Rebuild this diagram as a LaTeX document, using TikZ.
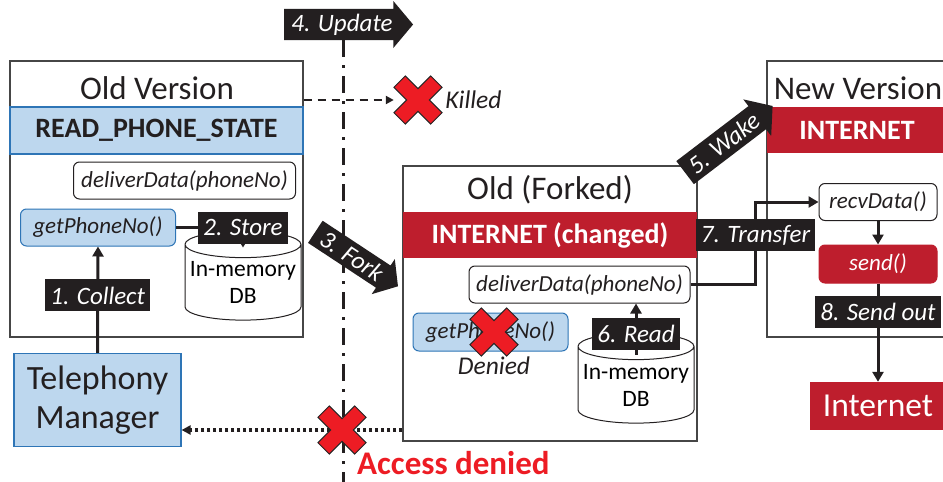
\documentclass[tikz,border=0pt]{standalone}
\usepackage{fontspec}
\setmainfont{Carlito}
\usetikzlibrary{positioning,arrows.meta,shapes.arrows,shapes.geometric}

\definecolor{permblue}{RGB}{189,215,238}
\definecolor{edgeblue}{RGB}{46,117,182}
\definecolor{permred}{RGB}{190,30,45}
\definecolor{xred}{RGB}{237,28,36}
\definecolor{labelblack}{RGB}{35,31,32}
\definecolor{edgegray}{RGB}{70,70,70}

\tikzset{
  redx/.pic={\draw[fill=xred,draw=black!85,line width=1pt,rotate=45]
    (-8,-26) -- (8,-26) -- (8,-8) -- (26,-8) -- (26,8) -- (8,8) -- (8,26)
    -- (-8,26) -- (-8,8) -- (-26,8) -- (-26,-8) -- (-8,-8) -- cycle;}
}

\begin{document}
\begin{tikzpicture}[x=1pt,y=-1pt,>={Triangle[length=10pt,width=11pt]},
  every node/.style={inner sep=0pt},
  appbox/.style={draw=edgegray,line width=1.2pt},
  apptitle/.style={font=\fontsize{33}{38}\selectfont,text=labelblack},
  permission/.style={font=\bfseries\fontsize{28}{32}\selectfont},
  blueperm/.style={permission,fill=permblue,draw=edgeblue,line width=1.2pt,text=labelblack},
  redperm/.style={permission,fill=permred,text=white},
  func/.style={draw=labelblack,line width=1pt,rounded corners=6pt,fill=white,
    font=\itshape\fontsize{23}{27}\selectfont,text=labelblack},
  bluefunc/.style={func,fill=permblue,draw=edgeblue},
  redfunc/.style={func,fill=permred,draw=permred,text=white},
  memdb/.style={cylinder,shape border rotate=90,aspect=0.25,draw=labelblack,
    line width=1pt,fill=white,align=center,font=\fontsize{23.5}{27}\selectfont},
  manager/.style={fill=permblue,draw=edgeblue,line width=1.2pt,align=center,
    font=\fontsize{34}{39}\selectfont,text=labelblack},
  outside/.style={fill=permred,text=white,font=\fontsize{33.5}{38}\selectfont},
  steplabel/.style={fill=labelblack,text=white,font=\itshape\fontsize{25}{29}\selectfont,
    inner xsep=5pt,minimum height=32pt},
  stepflow/.style={line width=3pt,draw=labelblack},
  bigarrow/.style={single arrow,fill=labelblack,text=white,
    font=\itshape\fontsize{25}{29}\selectfont,inner sep=3pt,
    single arrow head extend=7pt,single arrow tip angle=100},
  xspot/.style={minimum size=48pt},
  killtext/.style={font=\itshape\fontsize{25.5}{29}\selectfont,text=labelblack},
  timeline/.style={line width=3pt,draw=labelblack,dash pattern=on 17pt off 8pt on 3pt off 8pt}]

\useasboundingbox (0,0) rectangle (943,482);

% old version
\node[appbox,minimum width=293pt,minimum height=276pt] (oldbox) at (156.5,199) {};
\node[apptitle] (oldtitle) at (157,88) {Old Version};
\node[blueperm,minimum width=293pt,minimum height=47pt] (oldperm) at (156.5,130.5) {READ\_PHONE\_STATE};
\node[func,minimum width=222pt,minimum height=37pt] (olddeliver) at (184.5,180.5) {deliverData(phoneNo)};
\node[bluefunc,minimum width=155pt,minimum height=37pt] (oldget) at (98,227.5) {getPhoneNo()};
\node[memdb,minimum width=116pt,minimum height=89pt] (olddb) at (243,282.5) {In-memory\\DB};
\node[manager,minimum width=167pt,minimum height=93pt] (telebox) at (97.5,400) {Telephony\\Manager};

% forked copy
\node[appbox,minimum width=294pt,minimum height=275pt] (forkbox) at (550,303.5) {};
\node[apptitle] (forktitle) at (550,190) {Old (Forked)};
\node[redperm,minimum width=294pt,minimum height=46pt] (forkperm) at (550,235) {INTERNET (changed)};
\node[func,minimum width=221pt,minimum height=37pt] (forkdeliver) at (579.5,284.5) {deliverData(phoneNo)};
\node[bluefunc,minimum width=155pt,minimum height=38pt] (forkget) at (490.5,332) {getPhoneNo()};
\node[memdb,minimum width=116pt,minimum height=90pt] (forkdb) at (636,385) {In-memory\\DB};

% new version
\node[appbox,minimum width=180pt,minimum height=276pt] (newbox) at (857,199) {};
\node[apptitle] (newtitle) at (858,88) {New Version};
\node[redperm,minimum width=180pt,minimum height=46pt] (newperm) at (857,130) {INTERNET};
\node[func,minimum width=118pt,minimum height=37pt] (newrecv) at (878,202) {recvData()};
\node[redfunc,minimum width=118pt,minimum height=38pt] (newsend) at (878,264) {send()};
\node[outside,minimum width=136pt,minimum height=48pt] (internet) at (878,406) {Internet};

% update time line
\node[bigarrow,minimum height=129pt,minimum width=47pt] (update) at (342,24.5) {4. Update};
\coordinate (timeend) at (343,482);
\draw[timeline] (timeend |- update.south) -- (timeend);

% flows
\draw[stepflow,->] (telebox.north) -- (oldget.south) node[steplabel,pos=0.54] {1. Collect};
\draw[stepflow,->] (oldget.east) -| ([yshift=-17pt]olddb.north) node[steplabel,pos=0.5] {2. Store};
\draw[stepflow,->] ([yshift=-22pt]forkdb.north) -- (forkdb.north |- forkdeliver.south) node[steplabel,pos=0.4] {6. Read};
\draw[stepflow,->] (forkdeliver.east) -- ++(65,0) |- node[steplabel,pos=0.3] {7. Transfer} (newrecv.west);
\draw[stepflow,->] (newrecv.south) -- (newsend.north);
\draw[stepflow,->] (newsend.south) -- (internet.north) node[steplabel,pos=0.29] {8. Send out};

\node[bigarrow,minimum height=99pt,minimum width=42pt,rotate=-33.4] (fork) at (352,256) {3. Fork};
\node[bigarrow,minimum height=110pt,minimum width=46pt,rotate=37.3] (wake) at (724,143) {5. Wake};

% killed and denied
\node[xspot] (killx) at (418,100) {};
\draw[line width=2pt,draw=labelblack,dash pattern=on 8pt off 6pt,->,>={Triangle[length=8pt,width=8pt]}]
  (oldbox.east |- killx) -- (killx.west);
\pic at (killx) {redx};
\node[killtext,right=3pt of killx] (killed) {Killed};

\node[xspot] (deniedx) at (494,332) {};
\pic at (deniedx) {redx};
\node[killtext,below=0pt of deniedx] (denied) {Denied};

\node[xspot] (accessx) at (342,430) {};
\draw[line width=3.5pt,draw=labelblack,dash pattern=on 3pt off 3pt,->,>={Triangle[length=9pt,width=9pt]}]
  (forkbox.west |- accessx) -- (telebox.east |- accessx);
\pic at (accessx) {redx};
\node[anchor=west,text=xred,font=\bfseries\fontsize{33}{38}\selectfont] (accesstext) at (357,463) {Access denied};
\end{tikzpicture}
\end{document}
